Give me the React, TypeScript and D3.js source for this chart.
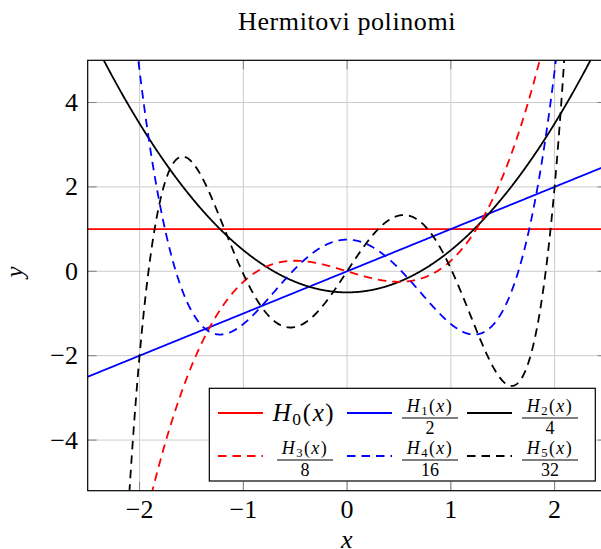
import React from 'react';
import * as d3 from 'd3';

const title = 'Hermitovi polinomi';
const xTicks = [-2, -1, 0, 1, 2];
const yTicks = [-4, -2, 0, 2, 4];
const xDomain = [-2.5, 2.5];
const yDomain = [-5.2, 5];

// polynomial coefficients (lowest degree first) of the plotted curves
const h0 = [1];
const h1 = [0, 1];
const h2 = [-0.5, 0, 1];
const h3 = [0, -0.75, 0, 1];
const h4 = [0.75, 0, -3, 0, 1];
const h5 = [0, 3.75, 0, -4.6875, 0, 1];
const seriesCoefs = [h0, h1, h2, h3, h4, h5];
const seriesIndex = [0, 1, 2, 3, 4, 5];
const seriesDenoms = ['', '2', '4', '8', '16', '32'];
const seriesColors = ['#ff0000', '#0000ff', '#000000', '#ff0000', '#0000ff', '#000000'];
const seriesDashed = [false, false, false, true, true, true];

const W = 601;
const H = 549;
const L = 87.7, R = 606.5, T = 60.3, B = 490.7;
const FONT = '"Liberation Serif", "DejaVu Serif", serif';

function evalPoly(c: number[], x: number) {
  let s = 0;
  for (let i = c.length - 1; i >= 0; i--) s = s * x + c[i];
  return s;
}

function HLabel({ k, x, y, size, ls }: { k: number; x: number; y: number; size: number; ls: number }) {
  return (
    <text x={x} y={y} fontFamily={FONT} fontSize={size} textAnchor="middle" letterSpacing={ls}>
      <tspan fontStyle="italic">H</tspan>
      <tspan fontSize={size * 0.7} dy={size * 0.17}>{k}</tspan>
      <tspan dy={-size * 0.17}>(</tspan>
      <tspan fontStyle="italic">x</tspan>
      <tspan>)</tspan>
    </text>
  );
}

export default function App() {
  const xs = d3.scaleLinear().domain(xDomain).range([L, R]);
  const ys = d3.scaleLinear().domain(yDomain).range([B, T]);
  const sampleX = d3.range(xDomain[0], xDomain[1] + 1e-9, 0.004);
  const line = d3
    .line<[number, number]>()
    .x((d) => xs(d[0]))
    .y((d) => ys(Math.max(-20, Math.min(20, d[1]))));

  const colX = [218, 347, 467];
  const labelCX = [305, 430, 550];
  const rowY = [413, 456];
  const dash = '8.5,6';
  const fmt = (t: number) => (t < 0 ? '\u2212' + Math.abs(t) : String(t));

  return (
    <svg width={W} height={H} style={{ position: 'absolute', left: 0, top: 0 }}>
      <defs>
        <clipPath id="plotclip">
          <rect x={L} y={T} width={R - L} height={B - T} />
        </clipPath>
      </defs>
      <rect x={0} y={0} width={W} height={H} fill="#fff" />
      <text x={(L + R) / 2} y={30} fontFamily={FONT} fontSize={26} textAnchor="middle" letterSpacing={0.6}>
        {title}
      </text>
      {/* grid */}
      {xTicks.map((t) => (
        <line key={'gx' + t} x1={xs(t)} x2={xs(t)} y1={T} y2={B} stroke="#cccccc" strokeWidth={1} />
      ))}
      {yTicks.map((t) => (
        <line key={'gy' + t} x1={L} x2={R} y1={ys(t)} y2={ys(t)} stroke="#cccccc" strokeWidth={1} />
      ))}
      {/* tick marks */}
      {xTicks.map((t) => (
        <g key={'tx' + t} stroke="#808080" strokeWidth={1}>
          <line x1={xs(t)} x2={xs(t)} y1={B} y2={B - 9} />
          <line x1={xs(t)} x2={xs(t)} y1={T} y2={T + 9} />
        </g>
      ))}
      {yTicks.map((t) => (
        <g key={'ty' + t} stroke="#808080" strokeWidth={1}>
          <line x1={L} x2={L + 9} y1={ys(t)} y2={ys(t)} />
          <line x1={R} x2={R - 9} y1={ys(t)} y2={ys(t)} />
        </g>
      ))}
      {/* curves */}
      <g clipPath="url(#plotclip)">
        {seriesIndex.map((i) => (
          <path
            key={'s' + i}
            d={line(sampleX.map((x) => [x, evalPoly(seriesCoefs[i], x)] as [number, number])) || ''}
            fill="none"
            stroke={seriesColors[i]}
            strokeWidth={1.8}
            strokeDasharray={seriesDashed[i] ? dash : undefined}
          />
        ))}
      </g>
      {/* frame */}
      <rect x={L} y={T} width={R - L} height={B - T} fill="none" stroke="#000" strokeWidth={1.2} />
      {/* tick labels */}
      {xTicks.map((t) => (
        <text key={'lx' + t} x={xs(t)} y={518} fontFamily={FONT} fontSize={26} textAnchor="middle">
          {fmt(t)}
        </text>
      ))}
      {yTicks.map((t) => (
        <text key={'ly' + t} x={78} y={ys(t) + 8.5} fontFamily={FONT} fontSize={26} textAnchor="end">
          {fmt(t)}
        </text>
      ))}
      <text x={346.7} y={548} fontFamily={FONT} fontSize={26} fontStyle="italic" textAnchor="middle">
        x
      </text>
      <text
        transform={`translate(23,272) rotate(-90)`}
        fontFamily={FONT}
        fontSize={25}
        fontStyle="italic"
        textAnchor="middle"
      >
        y
      </text>
      {/* legend */}
      <rect x={209.3} y={388.3} width={386} height={92.7} fill="#fff" stroke="#000" strokeWidth={1.2} />
      {seriesIndex.map((i) => {
        const col = i % 3;
        const row = Math.floor(i / 3);
        const cy = rowY[row];
        const lx = colX[col];
        const cx = labelCX[col];
        const bar = cy + (row === 0 ? 5 : 4);
        return (
          <g key={'lg' + i}>
            <line
              x1={lx}
              x2={lx + 45}
              y1={cy}
              y2={cy}
              stroke={seriesColors[i]}
              strokeWidth={1.8}
              strokeDasharray={seriesDashed[i] ? dash : undefined}
            />
            {seriesDenoms[i] === '' ? (
              <HLabel k={i} x={304} y={cy + 8} size={25} ls={1.6} />
            ) : (
              <g>
                <HLabel k={i} x={cx} y={bar - 6} size={18} ls={1.4} />
                <line x1={cx - 28} x2={cx + 28} y1={bar} y2={bar} stroke="#000" strokeWidth={1} />
                <text x={cx} y={bar + 16} fontFamily={FONT} fontSize={18} textAnchor="middle">
                  {seriesDenoms[i]}
                </text>
              </g>
            )}
          </g>
        );
      })}
    </svg>
  );
}
